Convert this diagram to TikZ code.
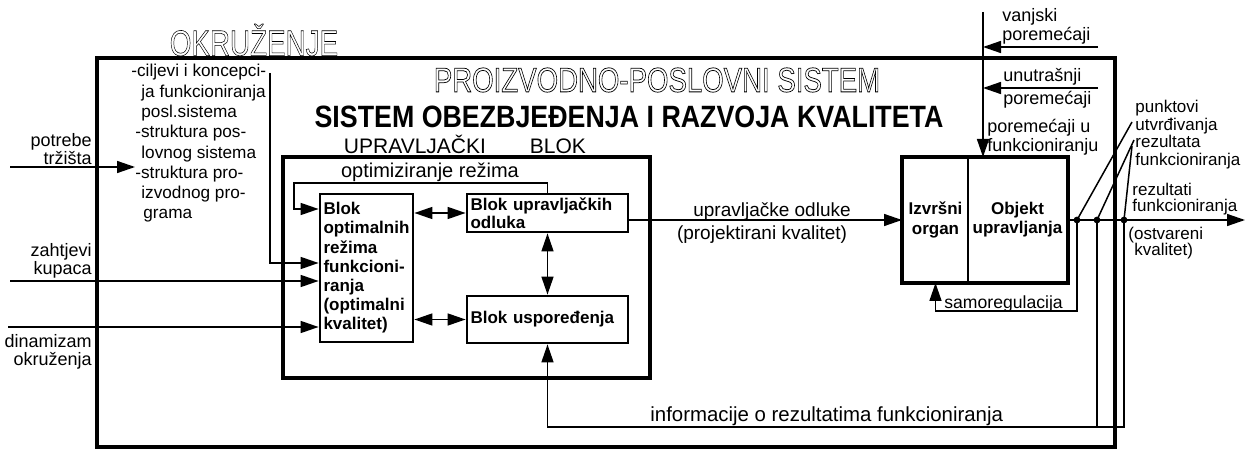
\documentclass[tikz,border=0pt]{standalone}
\usepackage{fontspec}
\setmainfont{Liberation Sans}
\usetikzlibrary{arrows.meta}

% hollow (outlined) letters for the two titles
\newcommand{\obrub}[2][0.3]{\special{pdf:literal direct 1 Tr #1 w}#2\special{pdf:literal direct 0 Tr}}

\tikzset{
  okvir/.style={line width=2pt},
  blok/.style={draw, line width=1.4pt, inner sep=1.5pt, font=\bfseries\fontsize{8.5}{9.6}\selectfont},
  veza/.style={line width=0.75pt, -{Triangle[length=9pt,width=6pt]}},
  dvoveza/.style={line width=0.75pt, {Triangle[length=9pt,width=6pt]}-{Triangle[length=9pt,width=6pt]}},
  linija/.style={line width=0.75pt},
  natpis/.style={inner sep=0pt, font=\fontsize{9}{9}\selectfont},
}

\begin{document}
\begin{tikzpicture}[x=0.5pt, y=-0.5pt]
  \useasboundingbox (0,0) rectangle (1255,449);
  % Frames
  \draw[okvir] (97,58) rectangle (1115,447);
  \draw[okvir] (283,157) rectangle (650,378);
  % Blocks of the control unit
  \node[blok, minimum width=46.5pt, minimum height=74pt, text width=43pt, align=left] (bor) at (366.5,268)
    {Blok\\optimalnih\\režima\\funkcioni-\\ranja\\(optimalni\\kvalitet)};
  \node[blok, minimum width=80.5pt, minimum height=19pt, text width=77pt, align=left,
    font=\bfseries\fontsize{8.5}{9}\selectfont] (buo) at (547.5,213) {Blok upravljačkih\\odluka};
  \node[blok, minimum width=80.5pt, minimum height=23.5pt, text width=77pt, align=left] (bus) at (547.5,319.5)
    {Blok uspoređenja};
  % Executive organ and controlled object
  \node[blok, line width=1pt, minimum width=32.5pt, minimum height=62pt, align=center] (izv) at (935.5,220)
    {Izvršni\\organ};
  \node[blok, line width=1pt, minimum width=49.5pt, minimum height=62pt, align=center] (obj) at (1017.5,220)
    {Objekt\\upravljanja};
  \draw[okvir] (izv.north west) rectangle (obj.south east);
  % Helper coordinates
  \coordinate (t1) at (1077,220);
  \coordinate (t2) at (1097,220);
  \coordinate (t3) at (1124,220);
  \coordinate (izlaz) at (1245,220);
  \coordinate (samo) at (0,311);
  \coordinate (info) at (0,427);
  \coordinate (opt) at (294,183);
  \coordinate (optul) at (0,209);
  \coordinate (stupac) at (270,73);
  \coordinate (stupul) at (0,263);
  \coordinate (potrebe) at (10,167);
  \coordinate (potrebekraj) at (135,167);
  \coordinate (zahtjevi) at (10,281);
  \coordinate (dinamizam) at (8,327);
  \coordinate (vrh) at (983,12);
  \coordinate (vp) at (1098,47);
  \coordinate (up) at (1098,88);
  \coordinate (p1) at (1132,122);
  \coordinate (p2) at (1134,140);
  \coordinate (p3) at (1132,146);
  % Inputs from the environment
  \draw[veza] (potrebe) -- (potrebekraj);
  \draw[veza] (zahtjevi) -- (bor.west |- zahtjevi);
  \draw[veza] (dinamizam) -- (bor.west |- dinamizam);
  \draw[veza] (stupac) |- (bor.west |- stupul);
  % Inside the control unit
  \draw[veza] (buo.north) |- (opt) |- (bor.west |- optul);
  \draw[dvoveza] (bor.east |- buo.west) -- (buo.west);
  \draw[dvoveza] (bor.east |- bus.west) -- (bus.west);
  \draw[dvoveza] (buo.south) -- (bus.north);
  \draw[veza] (buo.east |- izv.west) -- (izv.west);
  % Disturbances
  \draw[veza] (vrh) -- (vrh |- obj.north);
  \draw[veza] (vp) -- (vp -| vrh);
  \draw[veza] (up) -- (up -| vrh);
  % Output and feedback
  \draw[veza] (obj.east) -- (izlaz);
  \foreach \t in {t1,t2,t3} \fill (\t) circle (1.7pt);
  \draw[linija] (t1) -- (p1);
  \draw[linija] (t2) -- (p2);
  \draw[linija] (t3) -- (p3);
  \draw[veza] (t1) -- (t1 |- samo) -| (izv.south);
  \draw[veza] (t3) -- (t3 |- info) -| (bus.south);
  \draw[linija] (t2) -- (t2 |- info);
  % Labels
  \node[natpis, anchor=east, align=right] (potrebet) at (92,149) {potrebe\\tržišta};
  \node[natpis, anchor=east, align=right] (zahtjevit) at (92,261) {zahtjevi\\kupaca};
  \node[natpis, anchor=east, align=right] (dinamizamt) at (92,352) {dinamizam\\okruženja};
  \node[natpis, anchor=north west, align=left, font=\fontsize{8.6}{10.15}\selectfont] (ciljevi) at (131,64)
    {-ciljevi i koncepci-\\\hspace*{5pt}ja funkcioniranja\\\hspace*{5pt}posl.sistema\\\hspace*{2pt}-struktura pos-\\
     \hspace*{5pt}lovnog sistema\\\hspace*{2pt}-struktura pro-\\\hspace*{5pt}izvodnog pro-\\\hspace*{6pt}grama};
  \node[natpis, font=\fontsize{10}{10}\selectfont] (optt) at (430,172) {optimiziranje režima};
  \node[natpis, anchor=base, font=\fontsize{10.5}{11}\selectfont] (upblok) at (465,154) {UPRAVLJAČKI\hspace{22pt}BLOK};
  \node[natpis, font=\bfseries\fontsize{13.4}{14}\selectfont] (kvalitet) at (629,117)
    {\scalebox{1}[1.15]{SISTEM OBEZBJEĐENJA I RAZVOJA KVALITETA}};
  \node[natpis, anchor=base, font=\fontsize{9.5}{10}\selectfont] (odluket) at (772,217) {upravljačke odluke};
  \node[natpis, anchor=north, font=\fontsize{9.5}{10}\selectfont] (projt) at (762,225) {(projektirani kvalitet)};
  \node[natpis, anchor=south west, align=left, font=\fontsize{9}{8.2}\selectfont] (vanjskit) at (1002,45) {vanjski\\poremećaji};
  \node[natpis, anchor=south west] (unutt) at (1003,86) {unutrašnji};
  \node[natpis, anchor=north west] (unutpt) at (1003,91) {poremećaji};
  \node[natpis, anchor=north west, align=left, font=\fontsize{9}{9.5}\selectfont] (funkt) at (987,119) {poremećaji u\\funkcioniranju};
  \node[natpis, anchor=north west, align=left, font=\fontsize{8.5}{8.75}\selectfont] (punkt) at (1135,100)
    {punktovi\\utvrđivanja\\rezultata\\funkcioniranja};
  \node[natpis, anchor=south west, align=left, font=\fontsize{8.5}{8}\selectfont] (rezt) at (1132,215) {rezultati\\funkcioniranja};
  \node[natpis, anchor=north west, align=left, font=\fontsize{8.5}{8}\selectfont] (ostvt) at (1128,227) {(ostvareni\\\hspace*{3pt}kvalitet)};
  \node[natpis, anchor=base west, font=\fontsize{8.8}{9}\selectfont] (samot) at (944,308) {samoregulacija};
  \node[natpis, anchor=base west, font=\fontsize{10.2}{10}\selectfont] (infot) at (650,422) {informacije o rezultatima funkcioniranja};
  % Outlined titles
  \node[natpis, font=\fontsize{13.9}{14}\selectfont] (okruzenje) at (254,40) {\scalebox{1}[1.3]{\obrub[0.22]{OKRUŽENJE}}};
  \node[natpis, font=\fontsize{13.8}{14}\selectfont] (proizvodno) at (657,80) {\scalebox{1}[1.25]{\obrub{PROIZVODNO-POSLOVNI SISTEM}}};
\end{tikzpicture}
\end{document}
